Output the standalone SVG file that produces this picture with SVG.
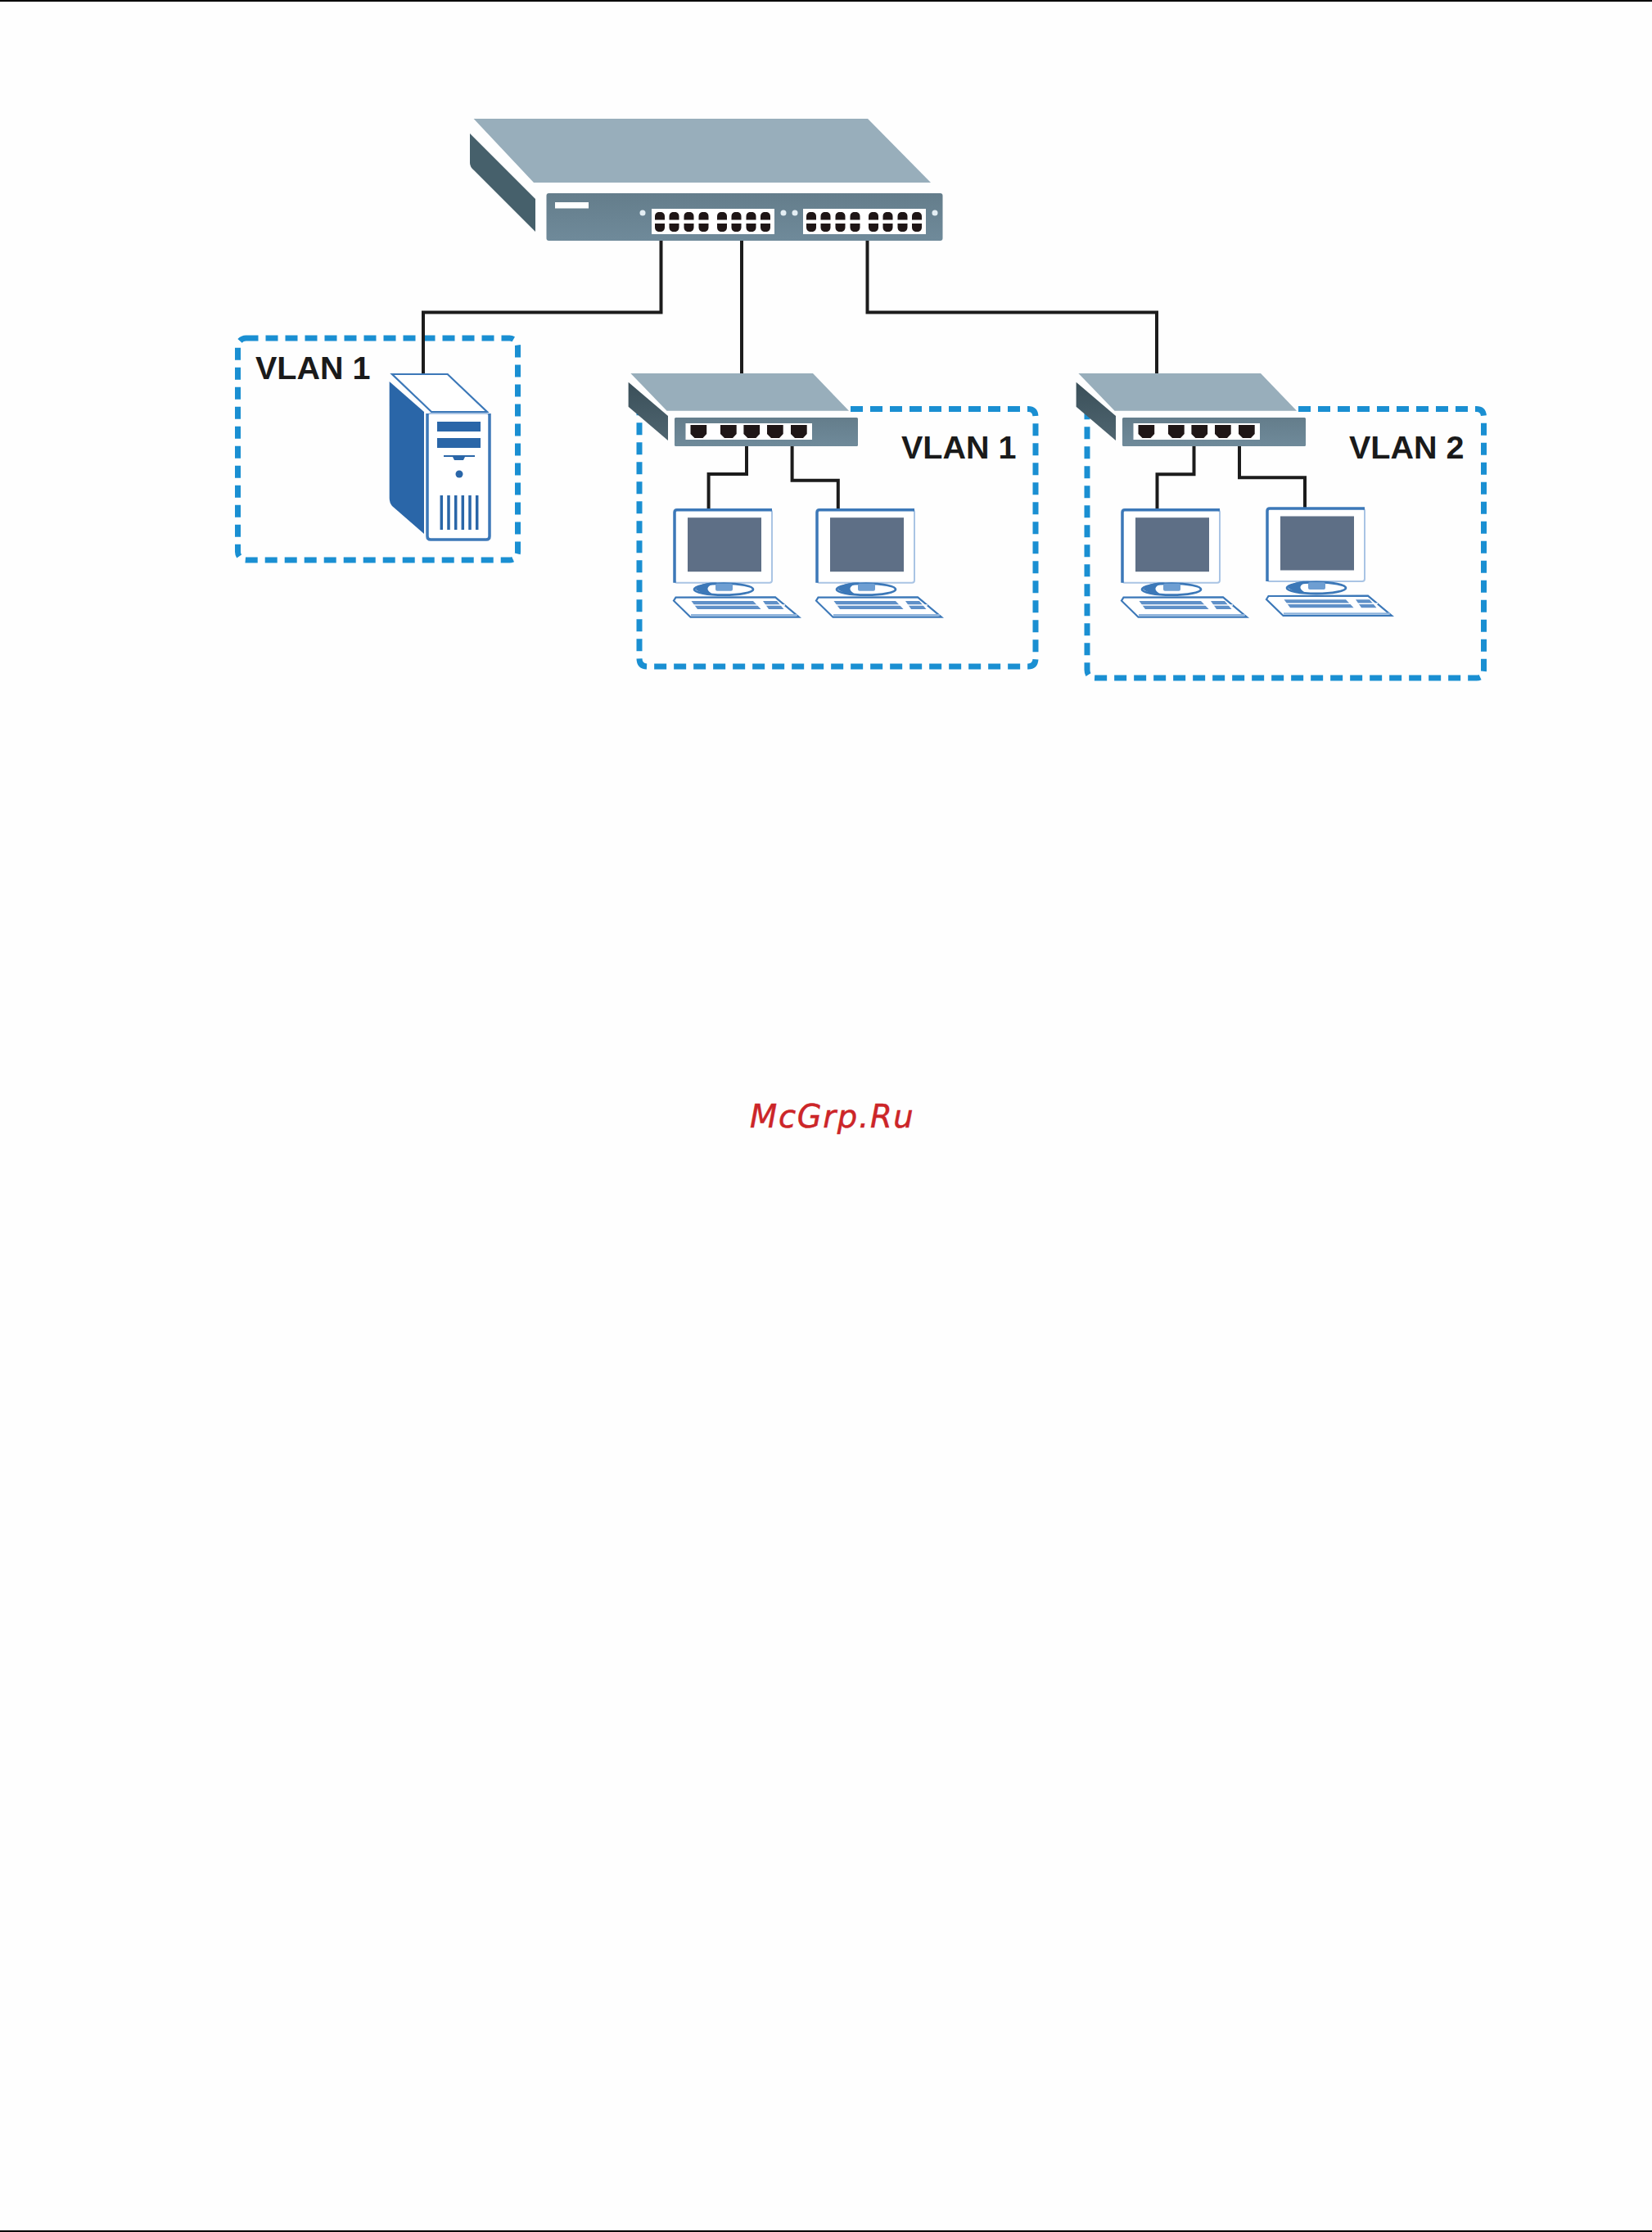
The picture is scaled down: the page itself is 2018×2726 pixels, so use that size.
<svg xmlns="http://www.w3.org/2000/svg" xmlns:xlink="http://www.w3.org/1999/xlink" width="2018" height="2726" viewBox="0 0 2018 2726">
<style>
.lbl{font-family:"Liberation Sans",Arial,sans-serif;font-weight:700;font-size:39.5px;fill:#1a1a1a}
.wm{font-family:"DejaVu Sans",sans-serif;font-style:oblique;font-size:38.5px;letter-spacing:1.7px;fill:#cc2528;stroke:#cc2528;stroke-width:.5}
.vlan{fill:none;stroke:#1a8fd2;stroke-width:7;stroke-dasharray:15 9}
.wire{fill:none;stroke:#1c1c1c;stroke-width:4}
.top{fill:#98aebb}.side{fill:#46606b}.port{fill:#1f1616}
.mb{fill:#fff;stroke:#a9c4e4;stroke-width:2}
.mbd{fill:none;stroke:#3c78b8;stroke-width:3.5}
.scr{fill:#5e6f86}.key{fill:#5f90c8}.thin{fill:#fff;stroke:#3c78b8;stroke-width:2.2}
.sb{fill:#2a66a8}
.vent{stroke:#2a66a8;stroke-width:3.5;fill:none}
</style>
<defs>
<linearGradient id="front" x1="0" y1="0" x2="0" y2="1"><stop offset="0" stop-color="#647d8b"/><stop offset="1" stop-color="#6f8a9a"/></linearGradient>
<linearGradient id="side2" x1="0" y1="0" x2="0" y2="1"><stop offset="0" stop-color="#3a4f59"/><stop offset="1" stop-color="#4f6570"/></linearGradient>
<path id="pt" class="port" d="M0 0H19.7V11L15 16H5L0 11Z"/>
<g id="smallswitch">
<polygon class="top" points="-53.6,-54 169,-54 213,-8.3 -9.4,-8.3"/>
<polygon fill="url(#side2)" points="-56.4,-43.3 -8,-2 -8,28 -56.4,-13.3"/>
<rect x="0" y="0" width="224" height="35" rx="1.5" fill="url(#front)"/>
<rect x="13.5" y="7" width="154.5" height="20" fill="#fff"/>
<use xlink:href="#pt" x="19.5" y="9"/><use xlink:href="#pt" x="56" y="9"/><use xlink:href="#pt" x="84.4" y="9"/><use xlink:href="#pt" x="113" y="9"/><use xlink:href="#pt" x="142" y="9"/>
</g>
<g id="pc">
<rect class="mb" x="0" y="0" width="119" height="89" rx="3"/>
<path class="mbd" d="M0 89V3Q0 0 3 0H119"/>
<rect class="scr" x="16" y="9.5" width="90" height="66"/>
<ellipse cx="60" cy="97" rx="36" ry="7" fill="#fff" stroke="#3c78b8" stroke-width="2.8"/>
<path d="M25 97C32 89 44 88 52 89C40 92 36 97 47 103C36 103 30 100 25 97Z" fill="#3c78b8"/>
<rect x="50" y="90" width="21" height="9" rx="2" fill="#6e9ed2"/>
<polygon class="thin" points="1.5,107 123,106.6 152,131 19.5,131 -1,111"/>
<path d="M20 128.500H150" fill="none" stroke="#8fb4dc" stroke-width="2.500"/>
<polygon class="key" points="20.5,111.3 96,111.3 105.6,121.3 28,121.3"/>
<polygon class="key" points="108,111.3 125,111.3 133.5,121.3 115,121.3"/>
<path d="M20 116.3H135" stroke="#fff" stroke-width="1.6"/>
</g>
<g id="ports">
<rect x="0" y="0" width="150" height="31" fill="#fff"/>
<g class="port">
<path id="up" d="M4 13.500V9.500A5.500 5.500 0 0 1 8 4H12A5.500 5.500 0 0 1 16 9.500V13.500Z"/><use xlink:href="#up" x="17.5"/><use xlink:href="#up" x="35.5"/><use xlink:href="#up" x="53.5"/><use xlink:href="#up" x="76"/><use xlink:href="#up" x="93.5"/><use xlink:href="#up" x="111.5"/><use xlink:href="#up" x="129"/>
<path id="dn" d="M4 18V23A5.500 5.500 0 0 0 8 28H12A5.500 5.500 0 0 0 16 23V18Z"/><use xlink:href="#dn" x="17.5"/><use xlink:href="#dn" x="35.5"/><use xlink:href="#dn" x="53.5"/><use xlink:href="#dn" x="76"/><use xlink:href="#dn" x="93.5"/><use xlink:href="#dn" x="111.5"/><use xlink:href="#dn" x="129"/>
</g>
</g>
</defs>
<rect width="2018" height="2726" fill="#fefefe"/>
<rect id="rule-top" x="0" y="0" width="2018" height="2" fill="#000"/>
<rect id="rule-bottom" x="0" y="2724" width="2018" height="2" fill="#000"/>

<g id="vlan-boxes">
<rect class="vlan" x="290.5" y="413" width="342" height="271" rx="10"/>
<path class="vlan" d="M1039 499.5H1256Q1265 499.5 1265 509.5V804Q1265 814 1256 814H791Q781 814 781 804V505"/>
<path class="vlan" d="M1586 499.5H1803.5Q1812.5 499.5 1812.5 509.5V818Q1812.500 828 1803.5 828H1338Q1328 828 1328 818V505"/>
</g>

<g id="connectors">
<path class="wire" d="M807.500 294V381.500H517V458"/>
<path class="wire" d="M906 294V456"/>
<path class="wire" d="M1059.500 294V381.500H1413V456"/>
<path class="wire" d="M912 545V579H865.6V623"/>
<path class="wire" d="M967.6 545V586.7H1023.8V623"/>
<path class="wire" d="M1458.500 545V579.3H1413.500V623"/>
<path class="wire" d="M1514 545V583.3H1594V621"/>
</g>

<g id="main-switch">
<polygon class="top" points="578.6,145 1060,145 1137,223 652,223"/>
<path class="side" d="M574 163L654 243V283L579 208Q574 204 574 199Z"/>
<rect x="667.5" y="236" width="484" height="58" rx="3" fill="url(#front)"/>
<rect x="678" y="247" width="41" height="7.5" fill="#fff"/>
<use xlink:href="#ports" x="796" y="255"/>
<use xlink:href="#ports" x="981" y="255"/>
<g fill="#e4eef4"><circle cx="785" cy="260" r="3.5"/><circle cx="957" cy="260" r="3.5"/><circle cx="971" cy="260" r="3.5"/><circle cx="1142" cy="260" r="3.5"/></g>
</g>

<g id="server">
<polygon class="thin" points="479,457 546.7,457 595,503 527,503 " />
<path class="sb" d="M475.7 466L518 503V652L479 618Q475.7 614 475.7 608Z"/>
<rect x="522" y="505" width="76" height="154" rx="4" fill="#fff" stroke="#a9c4e4" stroke-width="2"/>
<path class="mbd" d="M522 505V655Q522 659 526 659H594Q598 659 598 655V505"/>
<rect class="sb" x="534" y="515" width="53" height="12"/>
<rect class="sb" x="534" y="535" width="53" height="12"/>
<rect class="sb" x="542" y="556" width="38" height="2"/>
<polygon class="sb" points="553,558 568,558 566,562 555,562"/>
<circle class="sb" cx="561" cy="579" r="4.5"/>
<path class="vent" d="M539.3 605V647M548 605V647M556.7 605V647M565.3 605V647M574 605V647M582.7 605V647"/>
</g>

<g id="switch-vlan1"><use xlink:href="#smallswitch" x="824" y="510"/></g>
<g id="switch-vlan2"><use xlink:href="#smallswitch" x="1371" y="510"/></g>
<g id="pc-1"><use xlink:href="#pc" x="824" y="622.7"/></g>
<g id="pc-2"><use xlink:href="#pc" x="998" y="622.7"/></g>
<g id="pc-3"><use xlink:href="#pc" x="1371" y="622.7"/></g>
<g id="pc-4"><use xlink:href="#pc" x="1548" y="621"/></g>

<text class="lbl" x="312" y="463">VLAN 1</text>
<text class="lbl" x="1101" y="559.5">VLAN 1</text>
<text class="lbl" x="1648" y="559.5">VLAN 2</text>
<text class="wm" x="916" y="1377">McGrp.Ru</text>
</svg>
